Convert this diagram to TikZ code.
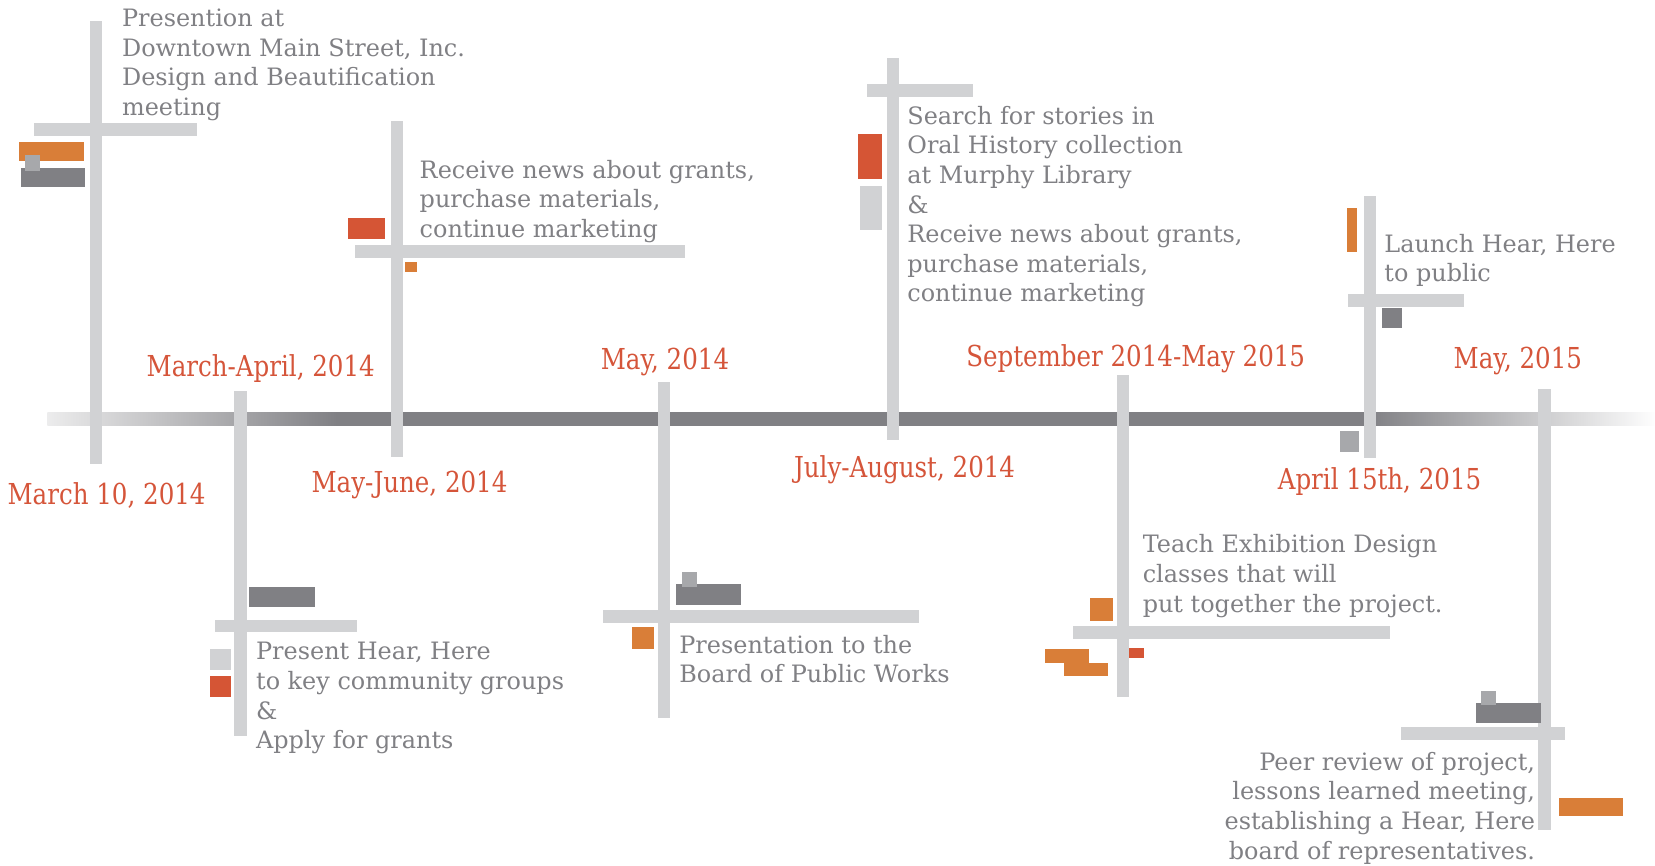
\documentclass[tikz,border=0pt]{standalone}
\usepackage{fontspec}
\setmainfont{DejaVu Serif}
\newfontfamily\datefont{DejaVu Serif}[FakeStretch=0.85]
\usepackage{xcolor}
\usetikzlibrary{positioning}
\definecolor{postgray}{HTML}{D1D2D4}
\definecolor{linegray}{HTML}{808084}
\definecolor{midgray}{HTML}{A7A8AB}
\definecolor{markorange}{HTML}{D97E38}
\definecolor{markred}{HTML}{D55535}
\definecolor{datered}{HTML}{D5553A}
\pgfdeclarehorizontalshading{timelinefade}{100bp}{color(0bp)=(white); color(25bp)=(white!85!linegray); color(34bp)=(linegray); color(66bp)=(linegray); color(75bp)=(white); color(100bp)=(white)}

\begin{document}
\begin{tikzpicture}[x=0.01055cm, y=-0.01055cm, font=\fontsize{6.8}{8.4}\selectfont]
		\tikzstyle{post}=[fill=postgray]
		\tikzstyle{date}=[text=datered, font=\datefont\fontsize{8.2}{10}\selectfont, anchor=base, inner sep=0pt]
		\tikzstyle{event}=[text=linegray, anchor=north west, inner sep=0pt, align=left]
		
		\useasboundingbox (0,0) rectangle (1568,820);
		
		% timeline
		\shade[shading=timelinefade] (45,391) rectangle (1570,403);
		
		% posts with cross bars
		\foreach \x/\top/\bot/\bary/\barl/\barr in {91/20/440/123/32/187, 228/370/697/593/204/338, 376/115/433/238/336/649, 629/362/680/584/571/871, 846/55/417/86/821/922, 1064/355/660/599/1017/1317, 1298/186/434/285/1277/1387, 1463/369/786/695/1327/1483}
		{
			\fill[post] (\x-6,\top) rectangle (\x+6,\bot);
			\fill[post] (\barl,\bary-6) rectangle (\barr,\bary+6);
		}
		
		% marks
		\foreach \a/\b/\c/\d in {18/135/80/153, 384/248/395/258, 599/594/620/615, 1033/567/1054/588, 990/615/1032/628, 1008/628/1050/640, 1276/197/1286/239, 1477/756/1538/773}
			\fill[markorange] (\a,\b) rectangle (\c,\d);
		\foreach \a/\b/\c/\d in {20/159/81/177, 236/556/298/575, 640/553/702/573, 1309/292/1328/311, 1398/666/1460/685}
			\fill[linegray] (\a,\b) rectangle (\c,\d);
		\foreach \a/\b/\c/\d in {24/147/38/162, 646/542/660/556, 1270/408/1288/428, 1403/655/1417/668}
			\fill[midgray] (\a,\b) rectangle (\c,\d);
		\foreach \a/\b/\c/\d in {330/207/365/226, 199/640/219/660, 813/127/836/170, 1070/614/1084/623}
			\fill[markred] (\a,\b) rectangle (\c,\d);
		\foreach \a/\b/\c/\d in {199/615/219/635, 815/176/836/218}
			\fill[postgray] (\a,\b) rectangle (\c,\d);
		
		% dates
		\node[date] (mar10) at (101,478) {March 10, 2014};
		\node[date] (marapr) at (247,357) {March-April, 2014};
		\node[date] (mayjun) at (388,467) {May-June, 2014};
		\node[date] (may14) at (630,350) {May, 2014};
		\node[date] (julaug) at (857,452) {July-August, 2014};
		\node[date] (sepmay) at (1076,347) {September 2014-May 2015};
		\node[date] (apr15) at (1307,464) {April 15th, 2015};
		\node[date] (may15) at (1438,349) {May, 2015};
		
		% events
		\node[event] (meeting) at (115,8) {Presention at\\Downtown Main Street, Inc.\\Design and Beautification\\meeting};
		\node[event] (present) at (242,608) {Present Hear, Here\\to key community groups\\\&\\Apply for grants};
		\node[event] (receive) at (397,151) {Receive news about grants,\\purchase materials,\\continue marketing};
		\node[event] (board) at (643,601) {Presentation to the\\Board of Public Works};
		\node[event] (search) at (859,100) {Search for stories in\\Oral History collection\\at Murphy Library\\\&\\Receive news about grants,\\purchase materials,\\continue marketing};
		\node[event] (teach) at (1082,506) {Teach Exhibition Design\\classes that will\\put together the project.};
		\node[event] (launch) at (1311,221) {Launch Hear, Here\\to public};
		\node[event, anchor=north east, align=right] (review) at (1455,712) {Peer review of project,\\lessons learned meeting,\\establishing a Hear, Here\\board of representatives.};
	\end{tikzpicture}
\end{document}
